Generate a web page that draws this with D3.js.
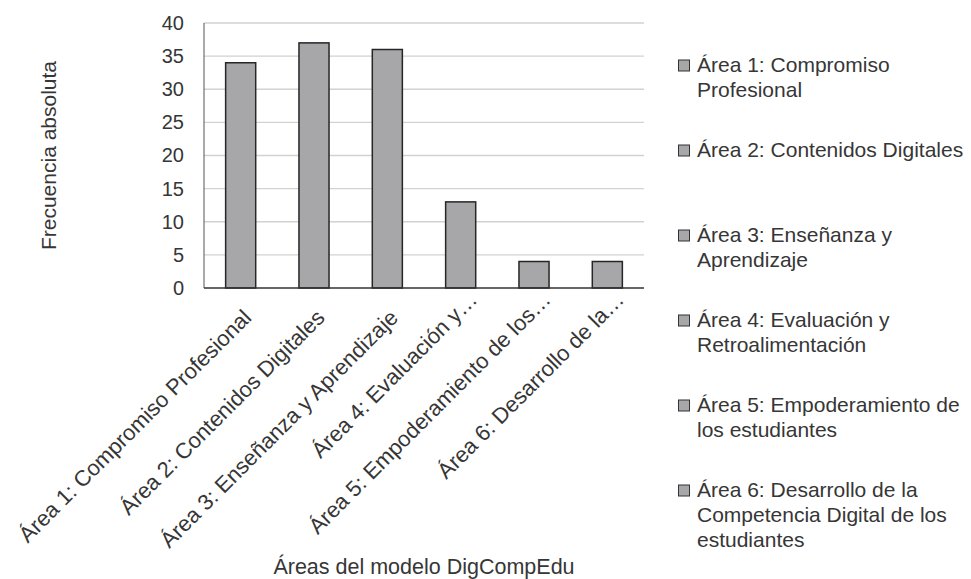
<!DOCTYPE html>
<html>
<head>
<meta charset="utf-8">
<script src="https://cdn.jsdelivr.net/npm/d3@7"></script>
<style>
  html, body { margin: 0; padding: 0; background: #ffffff; }
  svg { display: block; }
  text { font-family: "Liberation Sans", Arial, Helvetica, sans-serif; fill: #363636; }
</style>
</head>
<body>
<svg id="chart" width="971" height="579"></svg>
<script>
// Áreas del modelo DigCompEdu: frecuencia absoluta por área
const categories = [
  "Área 1: Compromiso Profesional",
  "Área 2: Contenidos Digitales",
  "Área 3: Enseñanza y Aprendizaje",
  "Área 4: Evaluación y Retroalimentación",
  "Área 5: Empoderamiento de los estudiantes",
  "Área 6: Desarrollo de la Competencia Digital de los estudiantes"
];
const values = [34, 37, 36, 13, 4, 4];
const axisLabels = [
  "Área 1: Compromiso Profesional",
  "Área 2: Contenidos Digitales",
  "Área 3: Enseñanza y Aprendizaje",
  "Área 4: Evaluación y…",
  "Área 5: Empoderamiento de los…",
  "Área 6: Desarrollo de la…"
];
const legendLines = [
  ["Área 1: Compromiso", "Profesional"],
  ["Área 2: Contenidos Digitales"],
  ["Área 3: Enseñanza y", "Aprendizaje"],
  ["Área 4: Evaluación y", "Retroalimentación"],
  ["Área 5: Empoderamiento de", "los estudiantes"],
  ["Área 6: Desarrollo de la", "Competencia Digital de los", "estudiantes"]
];
const yTicks = [0, 5, 10, 15, 20, 25, 30, 35, 40];
const yTitle = "Frecuencia absoluta";
const xTitle = "Áreas del modelo DigCompEdu";

const barFill = "#a7a7a9";
const barStroke = "#262626";
const textColor = "#363636";

const svg = d3.select("#chart");
const plot = { left: 204, right: 644, top: 23, bottom: 288 };

const x = d3.scaleBand()
  .domain(categories)
  .range([plot.left, plot.right])
  .paddingInner(0.59)
  .paddingOuter(0.295);

const y = d3.scaleLinear()
  .domain([0, 40])
  .range([plot.bottom, plot.top]);

// horizontal gridlines
svg.append("g")
  .selectAll("line")
  .data(yTicks.filter(t => t > 0))
  .join("line")
  .attr("x1", plot.left)
  .attr("x2", plot.right)
  .attr("y1", d => y(d))
  .attr("y2", d => y(d))
  .attr("stroke", "#d2d2d2")
  .attr("stroke-width", 1.3);

// left frame line
svg.append("line")
  .attr("x1", plot.left).attr("x2", plot.left)
  .attr("y1", y(40)).attr("y2", y(0))
  .attr("stroke", "#555").attr("stroke-width", 1);

// bars
svg.append("g")
  .selectAll("rect")
  .data(values)
  .join("rect")
  .attr("x", (d, i) => x(categories[i]))
  .attr("y", d => y(d))
  .attr("width", x.bandwidth())
  .attr("height", d => y(0) - y(d))
  .attr("fill", barFill)
  .attr("stroke", barStroke)
  .attr("stroke-width", 1.5);

// baseline
svg.append("line")
  .attr("x1", plot.left).attr("x2", plot.right)
  .attr("y1", y(0)).attr("y2", y(0))
  .attr("stroke", "#333").attr("stroke-width", 1.5);

// y axis
const yAxis = svg.append("g")
  .attr("transform", `translate(${plot.left},0)`)
  .call(d3.axisLeft(y).tickValues(yTicks).tickSize(0).tickPadding(20));
yAxis.select(".domain").remove();
yAxis.selectAll("text")
  .attr("font-size", 20)
  .attr("fill", textColor)
  .style("font-family", "'Liberation Sans', Arial, sans-serif");

// x axis with rotated labels
const labelOf = new Map(categories.map((c, i) => [c, axisLabels[i]]));
const xAxis = svg.append("g")
  .attr("transform", `translate(0,${plot.bottom})`)
  .call(d3.axisBottom(x).tickSize(0).tickFormat(c => labelOf.get(c)));
xAxis.select(".domain").remove();
xAxis.selectAll("text")
  .attr("font-size", 22)
  .attr("fill", textColor)
  .style("font-family", "'Liberation Sans', Arial, sans-serif")
  .attr("text-anchor", "end")
  .attr("dy", null)
  .attr("y", null)
  .attr("transform", function (c) {
    const truncated = labelOf.get(c).endsWith("…");
    const dx = truncated ? 18 : 12;
    const dy = truncated ? 13 : 31;
    return `translate(${dx},${dy}) rotate(-45)`;
  });

// axis titles
svg.append("text")
  .attr("transform", `translate(56,${(plot.top + plot.bottom) / 2}) rotate(-90)`)
  .attr("text-anchor", "middle")
  .attr("font-size", 21)
  .text(yTitle);

svg.append("text")
  .attr("x", (plot.left + plot.right) / 2)
  .attr("y", 574)
  .attr("text-anchor", "middle")
  .attr("font-size", 21.5)
  .text(xTitle);

// legend
const legend = svg.append("g").attr("transform", "translate(678,0)");
const entries = legend.selectAll("g")
  .data(legendLines)
  .join("g")
  .attr("transform", (d, i) => `translate(0,${72 + i * 85})`);
entries.append("rect")
  .attr("x", 0.5).attr("y", -12)
  .attr("width", 11).attr("height", 11)
  .attr("fill", barFill)
  .attr("stroke", "#333")
  .attr("stroke-width", 1);
entries.append("text")
  .attr("x", 19)
  .attr("font-size", 21)
  .selectAll("tspan")
  .data(d => d)
  .join("tspan")
  .attr("x", 19)
  .attr("dy", (d, i) => i === 0 ? 0 : 25)
  .text(d => d);
</script>
</body>
</html>
